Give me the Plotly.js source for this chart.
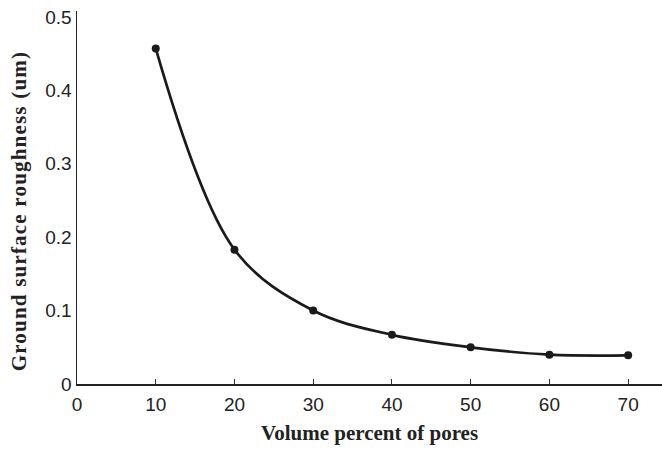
<!DOCTYPE html>
<html>
<head>
<meta charset="utf-8">
<script src="https://cdn.plot.ly/plotly-3.0.1.min.js"></script>
<style>
html,body{margin:0;padding:0;background:#fff;}
#chart{width:662px;height:449px;}
#chart .annotation-text{letter-spacing:1.2px;}
</style>
</head>
<body>
<div id="chart"></div>
<script>
var porePercent = [10, 20, 30, 40, 50, 60, 70];
var roughness = [0.457, 0.183, 0.100, 0.067, 0.050, 0.040, 0.039];
var xTickVals = [0, 10, 20, 30, 40, 50, 60, 70];
var yTickVals = [0, 0.1, 0.2, 0.3, 0.4, 0.5];
var yTickText = ["0", "0.1", "0.2", "0.3", "0.4", "0.5"];
var yTitleText = 'Ground surface roughness (um)';

var trace = {
  x: porePercent,
  y: roughness,
  type: 'scatter',
  mode: 'lines+markers',
  line: {shape: 'spline', smoothing: 1, color: '#1a1a1a', width: 2.7},
  marker: {color: '#1a1a1a', size: 8},
  cliponaxis: false,
  hoverinfo: 'x+y'
};

var layout = {
  width: 662, height: 449,
  margin: {l: 77, r: 0, t: 11, b: 65},
  paper_bgcolor: '#fff', plot_bgcolor: '#fff',
  showlegend: false,
  xaxis: {
    range: [0, 74.3],
    tickvals: xTickVals,
    ticks: 'inside', ticklen: 5, tickcolor: '#333', tickwidth: 1,
    ticklabelstandoff: 3,
    showline: true, linecolor: '#222', linewidth: 1.5,
    showgrid: false, zeroline: false,
    tickfont: {family: 'Liberation Sans, Arial, sans-serif', size: 19, color: '#222'},
    title: {text: '<b>Volume percent of pores</b>', font: {family: 'Liberation Serif, Times New Roman, serif', size: 21, color: '#222'}, standoff: 11}
  },
  yaxis: {
    range: [0, 0.508],
    tickvals: yTickVals, ticktext: yTickText,
    ticks: '',
    showline: true, linecolor: '#222', linewidth: 1.5,
    showgrid: false, zeroline: false,
    tickfont: {family: 'Liberation Sans, Arial, sans-serif', size: 19, color: '#222'}
  },
  annotations: [{
    text: '<b>' + yTitleText + '</b>',
    xref: 'paper', yref: 'paper',
    x: 0, y: 0.464, xanchor: 'center', yanchor: 'middle',
    xshift: -58, textangle: -90, showarrow: false,
    font: {family: 'Liberation Serif, Times New Roman, serif', size: 21, color: '#222'}
  }]
};

Plotly.newPlot('chart', [trace], layout, {displayModeBar: false, staticPlot: true});
</script>
</body>
</html>
